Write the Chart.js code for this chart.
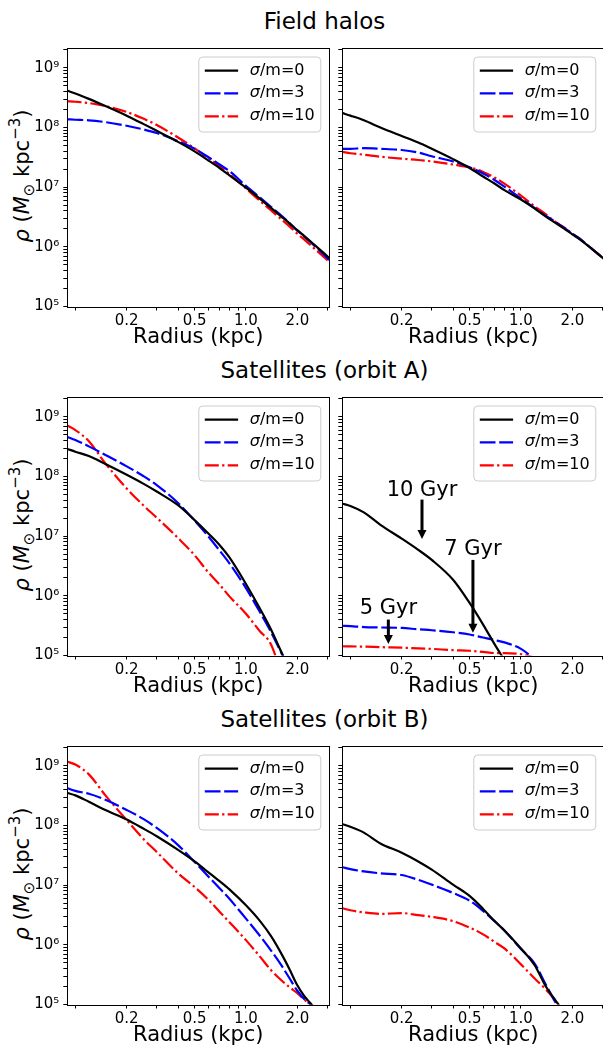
<!DOCTYPE html>
<html>
<head>
<meta charset="utf-8">
<script src="https://cdn.jsdelivr.net/npm/chart.js@4.4.1/dist/chart.umd.min.js"></script>
<style>
  body { margin: 0; width: 603px; height: 1049px; overflow: hidden; background: #fff; position: relative; font-family: "DejaVu Sans", sans-serif; color: #000; }
  canvas { position: absolute; }
  .title { position: absolute; font-size: 23px; line-height: 1; white-space: nowrap; transform: translateX(-50%); }
  .ylab { position: absolute; font-size: 21px; line-height: 1; white-space: nowrap; transform: translate(-50%, -50%) rotate(-90deg); }
  .ylab sub { font-size: 15px; vertical-align: -5px; }
  .ylab sup { font-size: 15px; vertical-align: 9px; }
</style>
</head>
<body>
<script>
// radius grid (kpc) shared by every curve
const radius = [0.09, 0.1, 0.12, 0.15, 0.2, 0.25, 0.3, 0.4, 0.5, 0.6, 0.7, 0.8, 1.0, 1.2, 1.4, 1.6, 1.8, 2.0, 2.2, 2.5, 3.08];

const rowTitles = ["Field halos", "Satellites (orbit A)", "Satellites (orbit B)"];
const legendLabels = ["σ/m=0", "σ/m=3", "σ/m=10"];
const xMajor = [0.2, 0.5, 1.0, 2.0];
const xMinor = [0.1, 0.3, 0.4, 0.6, 0.7, 0.8, 0.9, 3.0];
const yMajor = [1e5, 1e6, 1e7, 1e8, 1e9];

// field halos, left / right
const fieldL_0  = [4.12e8, 3.72e8, 3.02e8, 2.29e8, 1.58e8, 1.15e8, 8.8e7, 5.75e7, 3.98e7, 2.82e7, 2.09e7, 1.58e7, 9.8e6, 6.5e6, 4.5e6, 3.27e6, 2.48e6, 1.9e6, 1.51e6, 1.1e6, 6.5e5];
const fieldL_3  = [1.37e8, 1.35e8, 1.32e8, 1.23e8, 1.07e8, 9.3e7, 8.1e7, 5.9e7, 4.4e7, 3.2e7, 2.4e7, 1.86e7, 1.05e7, 6.8e6, 4.7e6, 3.4e6, 2.5e6, 1.86e6, 1.48e6, 1.07e6, 6.0e5];
const fieldL_10 = [2.75e8, 2.7e8, 2.57e8, 2.29e8, 1.82e8, 1.41e8, 1.1e8, 6.8e7, 4.47e7, 3.1e7, 2.24e7, 1.66e7, 9.5e6, 6.0e6, 4.1e6, 2.95e6, 2.2e6, 1.66e6, 1.32e6, 9.5e5, 5.6e5];

const fieldR_0  = [1.74e8, 1.58e8, 1.32e8, 1.0e8, 7.2e7, 5.6e7, 4.4e7, 2.95e7, 2.1e7, 1.51e7, 1.15e7, 8.9e6, 6.2e6, 4.4e6, 3.2e6, 2.5e6, 2.0e6, 1.62e6, 1.35e6, 1.02e6, 6.2e5];
const fieldR_3  = [4.4e7, 4.4e7, 4.5e7, 4.4e7, 4.2e7, 3.8e7, 3.3e7, 2.7e7, 2.15e7, 1.7e7, 1.32e7, 1.02e7, 6.5e6, 4.5e6, 3.3e6, 2.6e6, 2.05e6, 1.66e6, 1.38e6, 1.02e6, 6.2e5];
const fieldR_10 = [3.9e7, 3.7e7, 3.5e7, 3.24e7, 3.0e7, 2.85e7, 2.7e7, 2.4e7, 2.14e7, 1.8e7, 1.45e7, 1.15e7, 7.2e6, 4.8e6, 3.5e6, 2.6e6, 2.1e6, 1.66e6, 1.38e6, 1.02e6, 6.2e5];

// satellites, orbit A
const satAL_0  = [2.9e8, 2.6e8, 2.2e8, 1.62e8, 1.07e8, 7.6e7, 5.6e7, 3.3e7, 1.86e7, 1.12e7, 7.1e6, 4.4e6, 1.58e6, 6.3e5, 2.75e5, 1.2e5, 5.8e4];
const satAL_3  = [4.6e8, 4.1e8, 3.2e8, 2.3e8, 1.48e8, 1.02e8, 7.2e7, 3.6e7, 1.82e7, 1.0e7, 5.75e6, 3.5e6, 1.35e6, 5.5e5, 2.5e5, 1.15e5, 5.8e4];
const satAL_10 = [7.1e8, 6.0e8, 3.9e8, 1.66e8, 6.3e7, 3.3e7, 2.04e7, 9.3e6, 4.8e6, 2.5e6, 1.55e6, 9.8e5, 5.0e5, 2.6e5, 1.55e5, 5.4e4];

const satAR_0  = [3.5e7, 3.2e7, 2.5e7, 1.55e7, 9.1e6, 5.9e6, 4.0e6, 1.86e6, 7.6e5, 3.3e5, 1.55e5, 8.4e4];
const satAR_3  = [3.15e5, 3.1e5, 3.0e5, 2.95e5, 2.9e5, 2.75e5, 2.65e5, 2.45e5, 2.25e5, 2.0e5, 1.82e5, 1.66e5, 1.29e5, 8.8e4];
const satAR_10 = [1.43e5, 1.42e5, 1.41e5, 1.38e5, 1.35e5, 1.32e5, 1.29e5, 1.23e5, 1.2e5, 1.15e5, 1.1e5, 1.1e5, 1.05e5, 9.2e4];

// satellites, orbit B
const satBL_0  = [3.5e8, 3.2e8, 2.5e8, 1.82e8, 1.26e8, 8.9e7, 6.6e7, 3.9e7, 2.5e7, 1.66e7, 1.17e7, 8.5e6, 4.6e6, 2.57e6, 1.41e6, 7.4e5, 3.9e5, 2.1e5, 1.38e5, 9.1e4];
const satBL_3  = [4.2e8, 3.8e8, 3.4e8, 2.7e8, 1.82e8, 1.29e8, 9.1e7, 4.7e7, 2.45e7, 1.41e7, 8.9e6, 5.9e6, 2.75e6, 1.45e6, 8.1e5, 4.7e5, 2.75e5, 1.7e5, 1.23e5, 9.1e4];
const satBL_10 = [1.17e9, 1.05e9, 7.2e8, 3.2e8, 1.23e8, 6.0e7, 3.6e7, 1.58e7, 9.3e6, 5.75e6, 3.6e6, 2.4e6, 1.2e6, 6.5e5, 3.8e5, 2.6e5, 1.95e5, 1.55e5, 1.2e5, 9.1e4];

const satBR_0  = [1.05e8, 9.5e7, 7.6e7, 5.0e7, 3.5e7, 2.5e7, 1.82e7, 1.02e7, 6.6e6, 4.0e6, 2.5e6, 1.74e6, 8.7e5, 4.6e5, 2.0e5, 1.15e5, 7.4e4];
const satBR_3  = [2.0e7, 1.86e7, 1.7e7, 1.58e7, 1.48e7, 1.23e7, 1.02e7, 7.4e6, 5.5e6, 3.7e6, 2.5e6, 1.74e6, 8.5e5, 4.9e5, 2.15e5, 1.07e5, 6.9e4];
const satBR_10 = [4.1e6, 3.8e6, 3.5e6, 3.3e6, 3.4e6, 3.15e6, 2.95e6, 2.5e6, 1.95e6, 1.5e6, 1.12e6, 8.7e5, 4.7e5, 2.75e5, 1.78e5, 1.15e5, 6.8e4];

// annotations in the orbit A, right panel
const gyrLabels = ["10 Gyr", "7 Gyr", "5 Gyr"];
const gyrX = [0.263, 0.523, 0.167];
const gyrTextY = [4.8e7, 4.9e6, 4.9e5];
const gyrFrom = [4.1e7, 4.0e6, 4.0e5];
const gyrTo = [9.0e6, 2.4e5, 1.56e5];

// layout
const ROW_TOP = [45, 394, 743];
const PLOT_H = 261.5;
const COL_LEFT = [67.3, 342.3];
const PLOT_W = 262;
const FONT = "DejaVu Sans";
const colors = ["#000000", "#0000ff", "#ff0000"];
const dashes = [[], [15.7, 3.7], [14, 3.3, 2.3, 3.3]];
const sup = { 5: "\u2075", 6: "\u2076", 7: "\u2077", 8: "\u2078", 9: "\u2079" };

const framePlugin = {
  id: "frame",
  afterDraw(chart) {
    const { ctx, chartArea: a } = chart;
    ctx.save();
    ctx.strokeStyle = "#000";
    ctx.lineWidth = 1;
    ctx.strokeRect(Math.round(a.left) + 0.5, Math.round(a.top) + 0.5, Math.round(a.right) - Math.round(a.left), Math.round(a.bottom) - Math.round(a.top));
    ctx.restore();
  }
};

const legendPlugin = {
  id: "boxLegend",
  afterDraw(chart) {
    const { ctx, chartArea: a } = chart;
    const w = 122, h = 75;
    const bx = a.right - 8.5 - w, by = a.top + 9;
    ctx.save();
    ctx.beginPath();
    ctx.roundRect(bx, by, w, h, 4);
    ctx.fillStyle = "rgba(255,255,255,0.8)";
    ctx.fill();
    ctx.strokeStyle = "#cccccc";
    ctx.lineWidth = 1;
    ctx.stroke();
    const rows = [13.7, 36.3, 59.3];
    chart.data.datasets.forEach((ds, i) => {
      const yy = by + rows[i];
      ctx.beginPath();
      ctx.setLineDash(ds.borderDash);
      ctx.strokeStyle = ds.borderColor;
      ctx.lineWidth = ds.borderWidth;
      ctx.moveTo(bx + 6, yy);
      ctx.lineTo(bx + 39.3, yy);
      ctx.stroke();
      ctx.setLineDash([]);
      ctx.fillStyle = "#000";
      ctx.textBaseline = "middle";
      ctx.textAlign = "left";
      ctx.font = "italic 16px '" + FONT + "'";
      const s = ds.label.charAt(0);
      ctx.fillText(s, bx + 51, yy);
      const sw = ctx.measureText(s).width;
      ctx.font = "16px '" + FONT + "'";
      ctx.fillText(ds.label.slice(1), bx + 51 + sw, yy);
    });
    ctx.restore();
  }
};

const gyrPlugin = {
  id: "gyr",
  afterDatasetsDraw(chart) {
    const { ctx, scales: { x, y } } = chart;
    ctx.save();
    ctx.fillStyle = "#000";
    ctx.strokeStyle = "#000";
    ctx.font = "21px '" + FONT + "'";
    ctx.textAlign = "center";
    ctx.textBaseline = "alphabetic";
    gyrLabels.forEach((t, i) => {
      const px = x.getPixelForValue(gyrX[i]);
      ctx.fillText(t, px, y.getPixelForValue(gyrTextY[i]));
      const y0 = y.getPixelForValue(gyrFrom[i]);
      const y1 = y.getPixelForValue(gyrTo[i]);
      ctx.lineWidth = 3;
      ctx.beginPath();
      ctx.moveTo(px, y0);
      ctx.lineTo(px, y1 - 8);
      ctx.stroke();
      ctx.beginPath();
      ctx.moveTo(px - 4.5, y1 - 9);
      ctx.lineTo(px + 4.5, y1 - 9);
      ctx.lineTo(px, y1);
      ctx.closePath();
      ctx.fill();
    });
    ctx.restore();
  }
};

function yTickList() {
  const out = [];
  yMajor.forEach(v => {
    for (let m = 1; m <= 9; m++) {
      if (m * v <= 2.15e9) out.push({ value: m * v, major: m === 1 });
    }
  });
  return out;
}

function makePanel(row, col, series, extra) {
  const canvas = document.createElement("canvas");
  const cLeft = col === 0 ? 0 : 332;
  const cTop = ROW_TOP[row] - 10;
  const cW = col === 0 ? 340 : 290;
  const cH = 330;
  const yW = COL_LEFT[col] - cLeft;
  const xH = 50;
  canvas.width = cW;
  canvas.height = cH;
  canvas.style.left = cLeft + "px";
  canvas.style.top = cTop + "px";
  document.body.appendChild(canvas);

  const padRight = cW - (COL_LEFT[col] + PLOT_W - cLeft);
  const padBottom = cH - xH - (10 + PLOT_H);

  new Chart(canvas, {
    type: "line",
    data: {
      datasets: series.map((vals, i) => ({
        label: legendLabels[i],
        data: radius.map((r, j) => ({ x: r, y: vals[j] })).filter(p => p.y != null),
        borderColor: colors[i],
        borderWidth: 2.2,
        borderDash: dashes[i],
        pointRadius: 0,
        fill: false,
        cubicInterpolationMode: "monotone",
        clip: 0
      }))
    },
    options: {
      responsive: false,
      animation: false,
      events: [],
      layout: { padding: { top: 10, left: 0, right: padRight, bottom: padBottom } },
      plugins: { legend: { display: false }, tooltip: { enabled: false } },
      scales: {
        x: {
          type: "logarithmic",
          min: 0.0897,
          max: 3.08,
          border: { display: false },
          grid: { display: true, drawOnChartArea: false, drawTicks: true, tickLength: 4, color: "#000" },
          afterBuildTicks: s => { s.ticks = xMinor.concat(xMajor).sort((a, b) => a - b).map(v => ({ value: v })); },
          afterFit: s => { s.height = xH; },
          ticks: {
            autoSkip: false, maxRotation: 0, minRotation: 0, padding: 2, color: "#000",
            font: { family: FONT, size: 15 },
            callback: v => (xMajor.includes(v) ? v.toFixed(1) : "")
          },
          title: { display: true, text: "Radius (kpc)", color: "#000", font: { family: FONT, size: 21 }, padding: { top: 0, bottom: 6 } }
        },
        y: {
          type: "logarithmic",
          min: 1e5,
          max: 2.15e9,
          border: { display: false },
          grid: { display: true, drawOnChartArea: false, drawTicks: true, tickLength: 4, color: "#000" },
          afterBuildTicks: s => { s.ticks = yTickList(); },
          afterFit: s => { s.width = yW; },
          ticks: {
            autoSkip: false, padding: 4, color: "#000",
            font: { family: FONT, size: 15 },
            callback: v => {
              if (col === 1 || !yMajor.includes(v)) return "";
              return "10" + sup[Math.round(Math.log10(v))];
            }
          }
        }
      }
    },
    plugins: [framePlugin, legendPlugin].concat(extra || [])
  });
}

// row titles and y labels
rowTitles.forEach((t, i) => {
  const d = document.createElement("div");
  d.className = "title";
  d.textContent = t;
  d.style.left = "324.5px";
  d.style.top = (ROW_TOP[i] - 35.5) + "px";
  document.body.appendChild(d);

  const yl = document.createElement("div");
  yl.className = "ylab";
  yl.innerHTML = "<i>ρ</i> (<i>M</i><sub>⊙</sub> kpc<sup>−3</sup>)";
  yl.style.left = "22px";
  yl.style.top = (ROW_TOP[i] + PLOT_H / 2) + "px";
  document.body.appendChild(yl);
});

makePanel(0, 0, [fieldL_0, fieldL_3, fieldL_10]);
makePanel(0, 1, [fieldR_0, fieldR_3, fieldR_10]);
makePanel(1, 0, [satAL_0, satAL_3, satAL_10]);
makePanel(1, 1, [satAR_0, satAR_3, satAR_10], [gyrPlugin]);
makePanel(2, 0, [satBL_0, satBL_3, satBL_10]);
makePanel(2, 1, [satBR_0, satBR_3, satBR_10]);
</script>
</body>
</html>
